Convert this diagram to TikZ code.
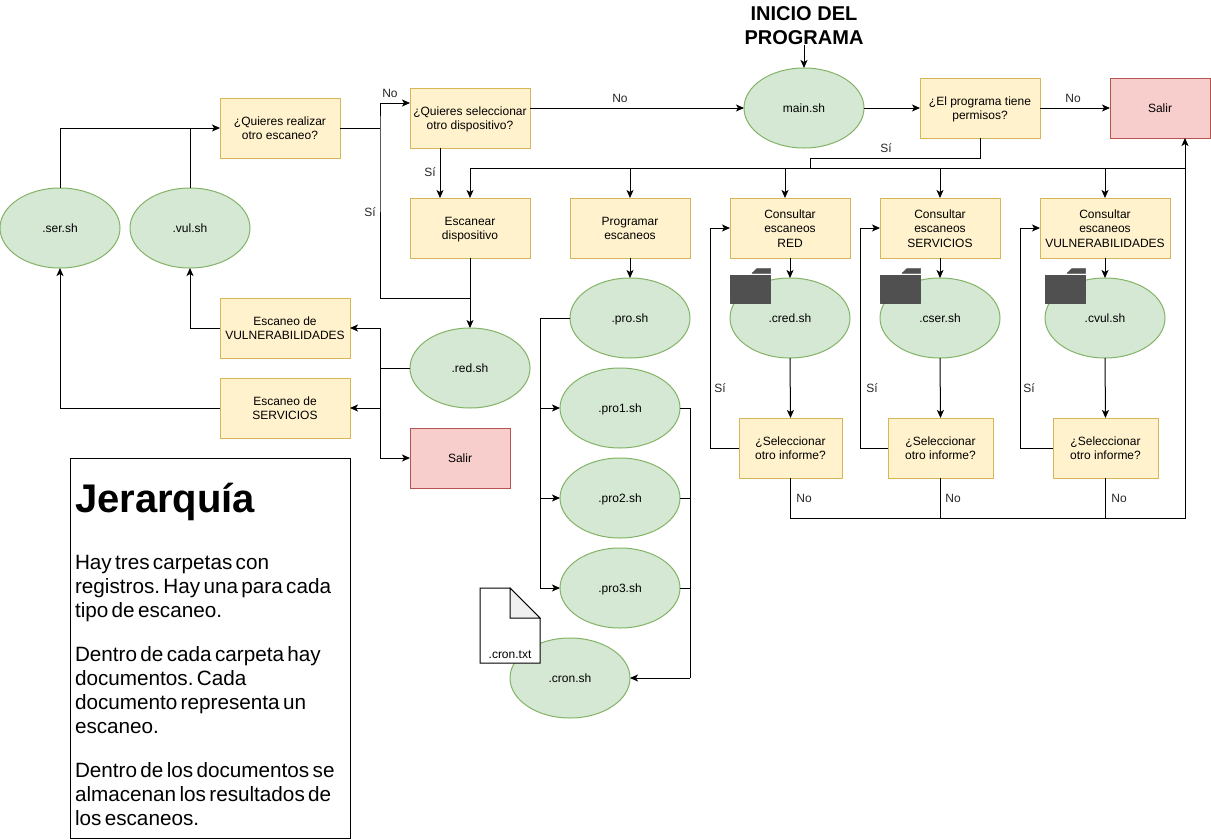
\documentclass[tikz,border=0pt]{standalone}
\usepackage{fontspec}
\setmainfont{Liberation Sans}
\usetikzlibrary{arrows.meta,shapes.geometric,calc}
\definecolor{yfill}{HTML}{FFF2CC}
\definecolor{ydraw}{HTML}{D6B656}
\definecolor{gfill}{HTML}{D5E8D4}
\definecolor{gdraw}{HTML}{82B366}
\definecolor{rfill}{HTML}{F8CECC}
\definecolor{rdraw}{HTML}{B85450}
\definecolor{folder}{HTML}{505050}
\newcommand{\lineh}{\rule[-3.04pt]{0pt}{14.4pt}}
\newcommand{\topl}{\rule{0pt}{12.4pt}}
\tikzset{
  basefont/.style={font=\fontsize{12}{14.4}\selectfont, align=center, inner sep=0pt, outer sep=0pt, execute at begin node=\lineh, execute at end node=\lineh},
  yellowbox/.style={basefont, rectangle, draw=ydraw, fill=yfill, line width=1pt, minimum width=#1, minimum height=60pt},
  yellowbox/.default=120pt,
  redbox/.style={basefont, rectangle, draw=rdraw, fill=rfill, line width=1pt, minimum width=100pt, minimum height=60pt},
  greenoval/.style={basefont, ellipse, draw=gdraw, fill=gfill, line width=1pt, minimum width=120pt, minimum height=80pt},
  lbl/.style={basefont, text=black!85},
  wire/.style={draw=black, line width=1pt},
  arr/.style={wire, -{Stealth[length=8pt,width=7pt,inset=2pt]}},
  folderpart/.style={fill=folder, draw=folder, line width=0.5pt, line join=round},
  docpart/.style={draw=black, line width=1pt, line join=miter},
}
\begin{document}
\begin{tikzpicture}[x=1pt,y=-1pt]
\useasboundingbox (0,0) rectangle (1211,839);

% title
\node[inner sep=0pt, outer sep=0pt, align=center, font=\fontsize{20}{24}\selectfont\bfseries] (inicio) at (804,26) {INICIO DEL\\PROGRAMA};

% nodes
\node[yellowbox] (q1) at (280,128) {\topl ¿Quieres realizar\\otro escaneo?};
\node[yellowbox] (q2) at (470,118) {\topl ¿Quieres seleccionar\\otro dispositivo?};
\node[greenoval] (main) at (804,108) {main.sh};
\node[yellowbox] (perm) at (980,108) {\topl ¿El programa tiene\\permisos?};
\node[redbox] (salirA) at (1160,108) {Salir};
\node[yellowbox] (esc) at (470,228) {\topl Escanear\\dispositivo};
\node[yellowbox] (prog) at (630,228) {\topl Programar\\escaneos};
\node[yellowbox] (c1) at (790,228) {\topl Consultar\\escaneos\\RED};
\node[yellowbox] (c2) at (940,228) {\topl Consultar\\escaneos\\SERVICIOS};
\node[yellowbox=130pt] (c3) at (1105,228) {\topl Consultar\\escaneos\\VULNERABILIDADES};
\node[greenoval] (cred) at (790,318) {.cred.sh};
\node[greenoval] (cser) at (940,318) {.cser.sh};
\node[greenoval] (cvul) at (1105,318) {.cvul.sh};
\node[yellowbox=103pt] (s1) at (790.5,448) {\topl ¿Seleccionar\\otro informe?};
\node[yellowbox=105pt] (s2) at (940.5,448) {\topl ¿Seleccionar\\otro informe?};
\node[yellowbox=105pt] (s3) at (1105.5,448) {\topl ¿Seleccionar\\otro informe?};
\node[greenoval] (ser) at (60,228) {.ser.sh};
\node[greenoval] (vul) at (190,228) {.vul.sh};
\node[yellowbox=130pt] (ev) at (285,328) {\topl Escaneo de\\VULNERABILIDADES};
\node[yellowbox=130pt] (es) at (285,408) {\topl Escaneo de\\SERVICIOS};
\node[redbox] (salirB) at (460,458) {Salir};
\node[greenoval] (red) at (470,368) {.red.sh};
\node[greenoval] (pro) at (630,318) {.pro.sh};
\node[greenoval] (proA) at (620,408) {.pro1.sh};
\node[greenoval] (proB) at (620,498) {.pro2.sh};
\node[greenoval] (proC) at (620,588) {.pro3.sh};
\node[greenoval] (cron) at (570,678) {.cron.sh};

% junction coordinates
\coordinate (busL) at (470,168);
\coordinate (busR) at (1185,168);
\coordinate (permJ) at (810,168);
\coordinate (botR) at (1185,518);
\coordinate (qJ) at (380,128);
\coordinate (escJ) at (470,298);
\coordinate (redJ) at (380,368);
\coordinate (proJ) at (540,318);
\coordinate (cronJ) at (690,678);
\coordinate (sLa) at (710,448);
\coordinate (sLb) at (860,448);
\coordinate (sLc) at (1020,448);

% connectors: top row
\draw[arr] (inicio.south) -- (main.north);
\draw[arr] (main.east) -- (perm.west);
\draw[arr] (perm.east) -- (salirA.west);
\draw[arr] (q2.east |- main.east) -- (main.west);
\draw[arr] ($(q2.south)+(-30,0)$) -- ($(esc.north)+(-30,0)$);
\draw[wire] (perm.south) -- ++(0,20) -| (permJ);
\draw[wire] (busL) -- (busR);
\draw[arr] (busL) -- (esc.north);
\draw[arr] (prog.north |- busL) -- (prog.north);
\draw[arr] ($(c1.north |- busL)+(-5,0)$) -- ($(c1.north)+(-5,0)$);
\draw[arr] (c2.north |- busL) -- (c2.north);
\draw[arr] (c3.north |- busL) -- (c3.north);

% left side
\draw[wire] (q1.east) -- (qJ);
\draw[arr] (escJ) -| (qJ) |- ($(q2.west)+(0,-15)$);
\draw[arr] (esc.south) -- (red.north);
\draw[arr] (ser.north) |- (q1.west);
\draw[wire] (vul.north) -- (vul.north |- q1.west);
\draw[arr] (ev.west) -| (vul.south);
\draw[arr] (es.west) -| (ser.south);
\draw[wire] (red.west) -- (redJ);
\draw[arr] (redJ) |- (ev.east);
\draw[arr] (redJ) |- (es.east);
\draw[arr] (redJ) |- (salirB.west);

% programar column
\draw[arr] (prog.south) -- (pro.north);
\draw[wire] (pro.west) -- (proJ);
\draw[arr] (proJ) |- (proA.west);
\draw[arr] (proJ) |- (proB.west);
\draw[arr] (proJ) |- (proC.west);
\draw[wire] (proA.east) -- (proA.east -| cronJ) -- (cronJ);
\draw[wire] (proB.east) -- (proB.east -| cronJ);
\draw[wire] (proC.east) -- (proC.east -| cronJ);
\draw[arr] (cronJ) -- (cron.east);

% consultar columns
\draw[arr] (c1.south) -- (cred.north);
\draw[arr] (c2.south) -- (cser.north);
\draw[arr] (c3.south) -- (cvul.north);
\draw[arr] (cred.south) -- (s1.north);
\draw[arr] (cser.south) -- (s2.north);
\draw[arr] (cvul.south) -- (s3.north);
\draw[wire] (s1.west) -- (sLa);
\draw[arr] (sLa) |- (c1.west);
\draw[wire] (s2.west) -- (sLb);
\draw[arr] (sLb) |- (c2.west);
\draw[wire] (s3.west) -- (sLc);
\draw[arr] (sLc) |- (c3.west);
\draw[arr] (s1.south) |- (botR) -- (busR |- salirA.south);
\draw[wire] (s2.south) -- (s2.south |- botR);
\draw[wire] (s3.south) -- (s3.south |- botR);

% labels
\node[lbl] (lNoA) at (620,98) {No};
\node[lbl] (lNoB) at (1073,98) {No};
\node[lbl] (lNoC) at (390,93) {No};
\node[lbl] (lSiA) at (886,148) {Sí};
\node[lbl] (lSiB) at (430,172) {Sí};
\node[lbl] (lSiC) at (370,212) {Sí};
\node[lbl] (lSiD) at (720,388) {Sí};
\node[lbl] (lSiE) at (872,388) {Sí};
\node[lbl] (lSiF) at (1029,388) {Sí};
\node[lbl] (lNoD) at (804,498) {No};
\node[lbl] (lNoE) at (953,498) {No};
\node[lbl] (lNoF) at (1119,498) {No};

% folders
\foreach \fx in {730,880,1045}{
  \begin{scope}[shift={(\fx,0)}]
    \fill[folderpart] (0.5,275.3) rectangle (40.5,303);
    \fill[folderpart] (22,273.3) -- (27,268.5) -- (40.5,268.5) -- (40.5,273.3) -- cycle;
  \end{scope}
}

% document
\draw[docpart, fill=white] (480,588) -- (510,588) -- (540,618) -- (540,663) -- (480,663) -- cycle;
\draw[docpart, fill=black!6] (510,588) -- (540,618) -- (510,618) -- cycle;
\node[basefont] (crontxt) at (510,654) {.cron.txt};

% hierarchy box
\node[inner sep=0pt, outer sep=0pt, rectangle, draw=black, fill=white, line width=1pt, minimum width=280pt, minimum height=380pt, text width=270pt, align=left] (jer) at (210,648) {%
\frenchspacing
\rule{0pt}{43pt}{\fontsize{40}{48}\selectfont\bfseries Jerarquía\par}%
\vspace{33pt}%
\fontsize{20.7}{24}\selectfont
Hay tres carpetas con\\registros. Hay una para cada\\tipo de escaneo.\\[20pt]
Dentro de cada carpeta hay\\documentos. Cada\\documento representa un\\escaneo.\\[20pt]
Dentro de los documentos se\\almacenan los resultados de\\los escaneos.\par};
\end{tikzpicture}
\end{document}
